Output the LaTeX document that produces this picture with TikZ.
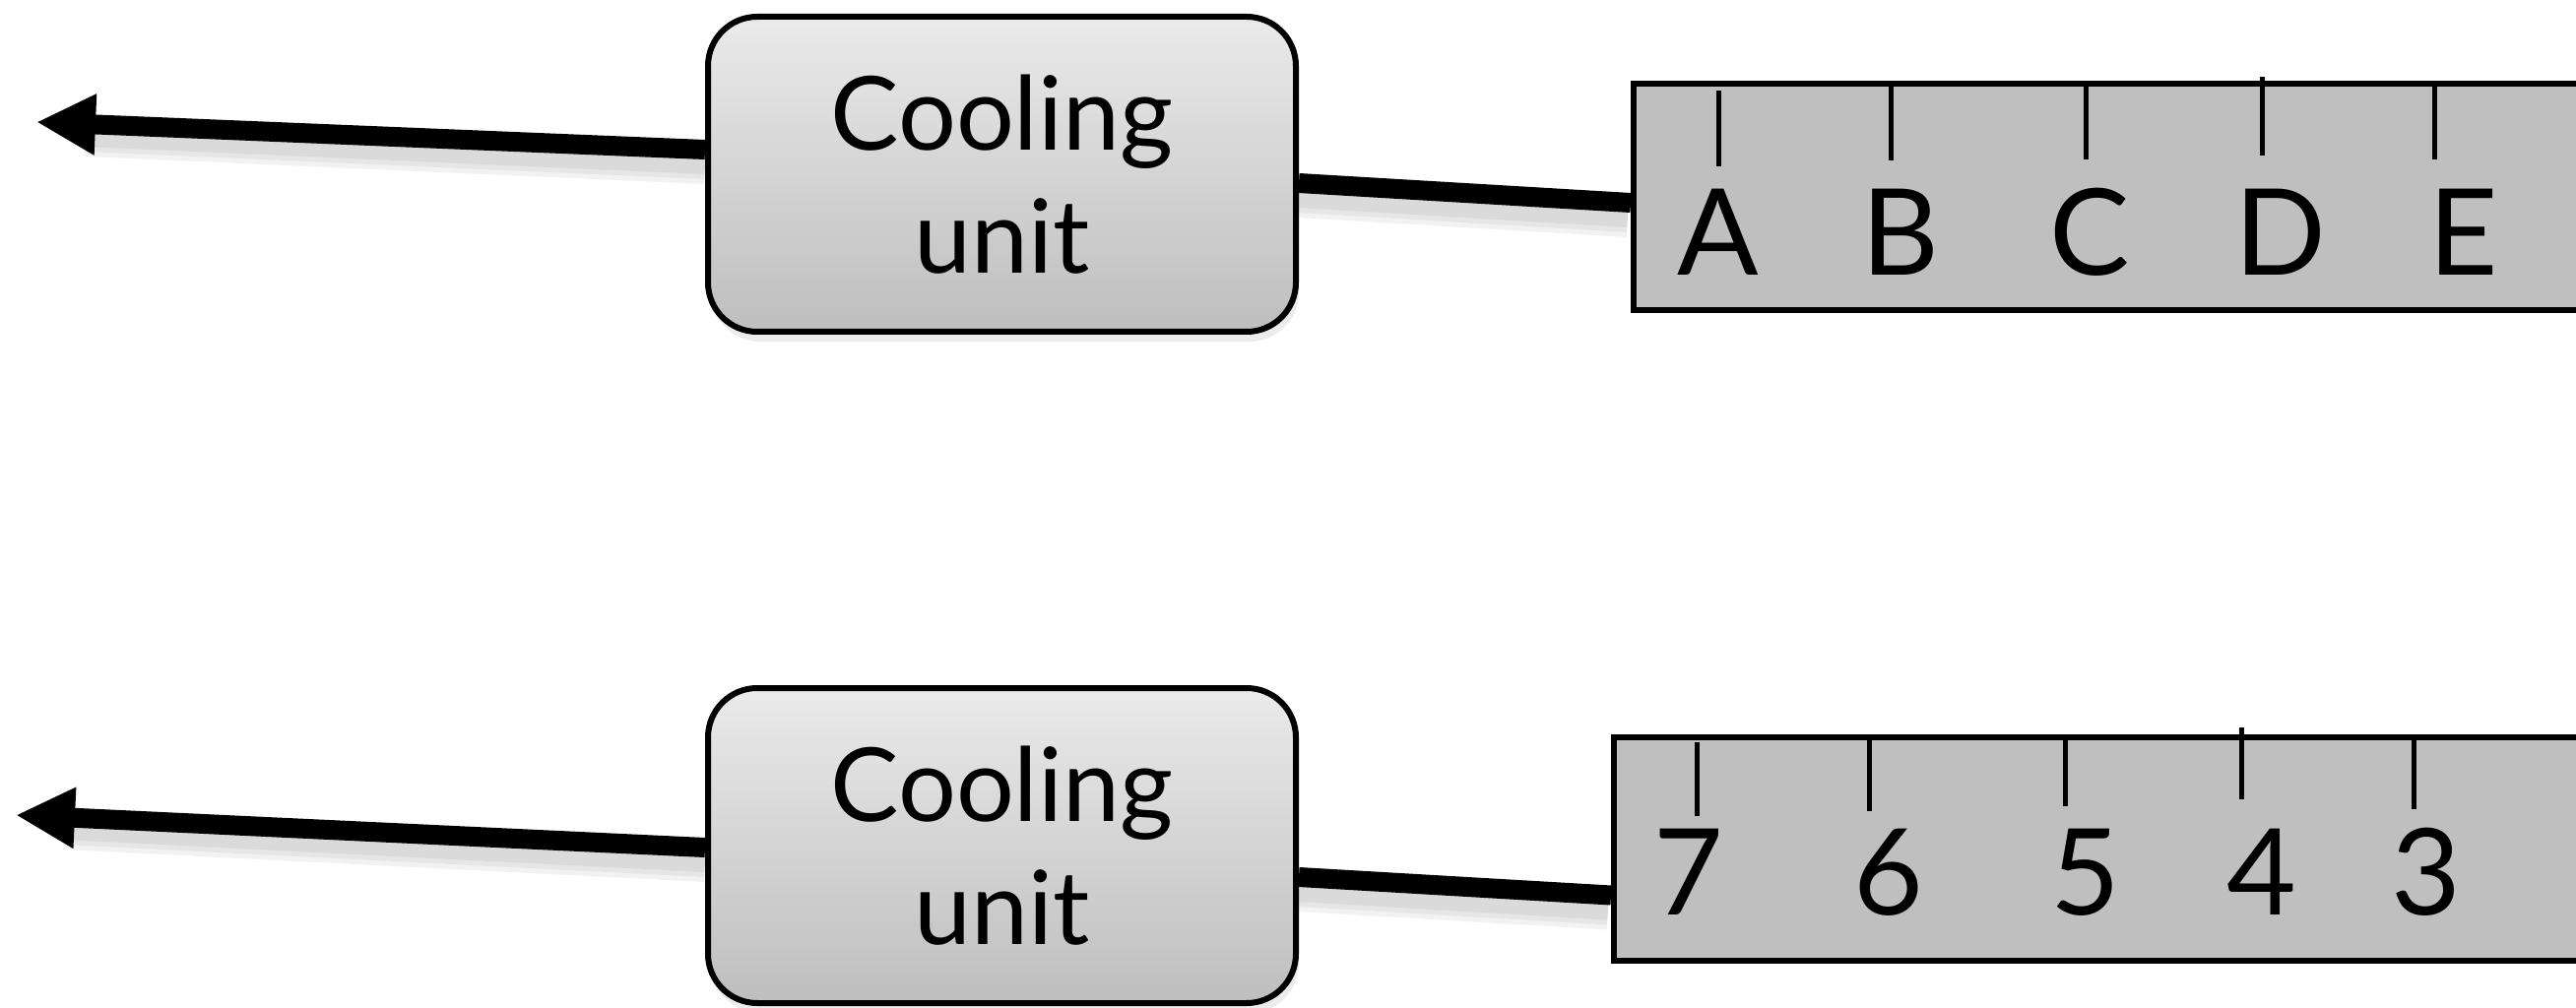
\documentclass[tikz,border=0pt]{standalone}
\usepackage{fontspec}
\setmainfont{Lato}
\usetikzlibrary{arrows.meta,shadows,calc}
\definecolor{boxtop}{RGB}{234,234,234}
\definecolor{boxbot}{RGB}{190,190,190}
\definecolor{barfill}{RGB}{191,191,191}
\tikzset{
  unitbox/.style={draw=black, line width=6pt, rounded corners=50pt,
    minimum width=597pt, minimum height=320pt, inner sep=0pt,
    top color=boxtop, bottom color=boxbot, align=center,
    font=\fontsize{104}{125}\selectfont,
    drop shadow={opacity=0.15, shadow xshift=3pt, shadow yshift=-10pt}},
  scalebar/.style={draw=black, line width=6pt, fill=barfill, rectangle,
    minimum width=1000pt, anchor=north west, inner sep=0pt},
  barlabel/.style={anchor=base, inner sep=0pt, font=\fontsize{122}{122}\selectfont},
  tickmark/.style={line width=5pt},
  flow/.style={line width=20pt, draw=black},
  outflow/.style={flow, -{Triangle[length=60pt 0 0,width=58pt 0 0]}},
  flowshadow/.style={line width=#1, draw=black, opacity=0.05},
  flowshadow/.default=30pt
}
\begin{document}
\begin{tikzpicture}[x=1pt,y=-1pt]
\useasboundingbox (0,0) rectangle (2616,1024);

% ---------- upper stage: letters ----------
\node[unitbox] (box1) at (1017.5,177) {Cooling\\unit};
\node[scalebar, minimum height=230pt] (bar1) at (1656,82) {};
\coordinate (tip1) at (37,124);

% soft shadows under the pipes
\foreach \w in {22pt,32pt,42pt}{
  \draw[flowshadow=\w] ($(box1.west)+(0,-25+14)$) -- ($(tip1)+(50,14)$);
  \draw[flowshadow=\w] ($(box1.east)+(0,9+14)$) -- ($(bar1.west)+(-3,6+14)$);
}
\draw[outflow] ($(box1.west)+(0,-25)$) -- (tip1);
\draw[flow] ($(box1.east)+(0,9)$) -- ($(bar1.west)+(0,6)$);

\draw[tickmark] (1745,92) -- (1745,169);
\draw[tickmark] (1920,87) -- (1920,163);
\draw[tickmark] (2118,87) -- (2118,162);
\draw[tickmark] (2297,78) -- (2297,158);
\draw[tickmark] (2472,87) -- (2472,162);

\node[barlabel] (lA) at (1745,280) {A};
\node[barlabel] (lB) at (1930,280) {B};
\node[barlabel] (lC) at (2122,280) {C};
\node[barlabel] (lD) at (2316,280) {D};
\node[barlabel] (lE) at (2502,280) {E};

% ---------- lower stage: numbers ----------
\node[unitbox] (box2) at (1017.5,859) {Cooling\\unit};
\node[scalebar, minimum height=227pt] (bar2) at (1636,746) {};
\coordinate (tip2) at (16,828);

\foreach \w in {22pt,32pt,42pt}{
  \draw[flowshadow=\w] ($(box2.west)+(0,2+14)$) -- ($(tip2)+(50,14)$);
  \draw[flowshadow=\w] ($(box2.east)+(0,32+14)$) -- ($(bar2.west)+(-3,47+14)$);
}
\draw[outflow] ($(box2.west)+(0,2)$) -- (tip2);
\draw[flow] ($(box2.east)+(0,32)$) -- ($(bar2.west)+(0,47)$);

\draw[tickmark] (1723,754) -- (1723,829);
\draw[tickmark] (1898,749) -- (1898,824);
\draw[tickmark] (2097,749) -- (2097,819);
\draw[tickmark] (2276,739) -- (2276,812);
\draw[tickmark] (2451,749) -- (2451,822);

\node[barlabel] (n7) at (1715,929) {7};
\node[barlabel] (n6) at (1918,929) {6};
\node[barlabel] (n5) at (2118,929) {5};
\node[barlabel] (n4) at (2297,929) {4};
\node[barlabel] (n3) at (2464,929) {3};
\end{tikzpicture}
\end{document}
